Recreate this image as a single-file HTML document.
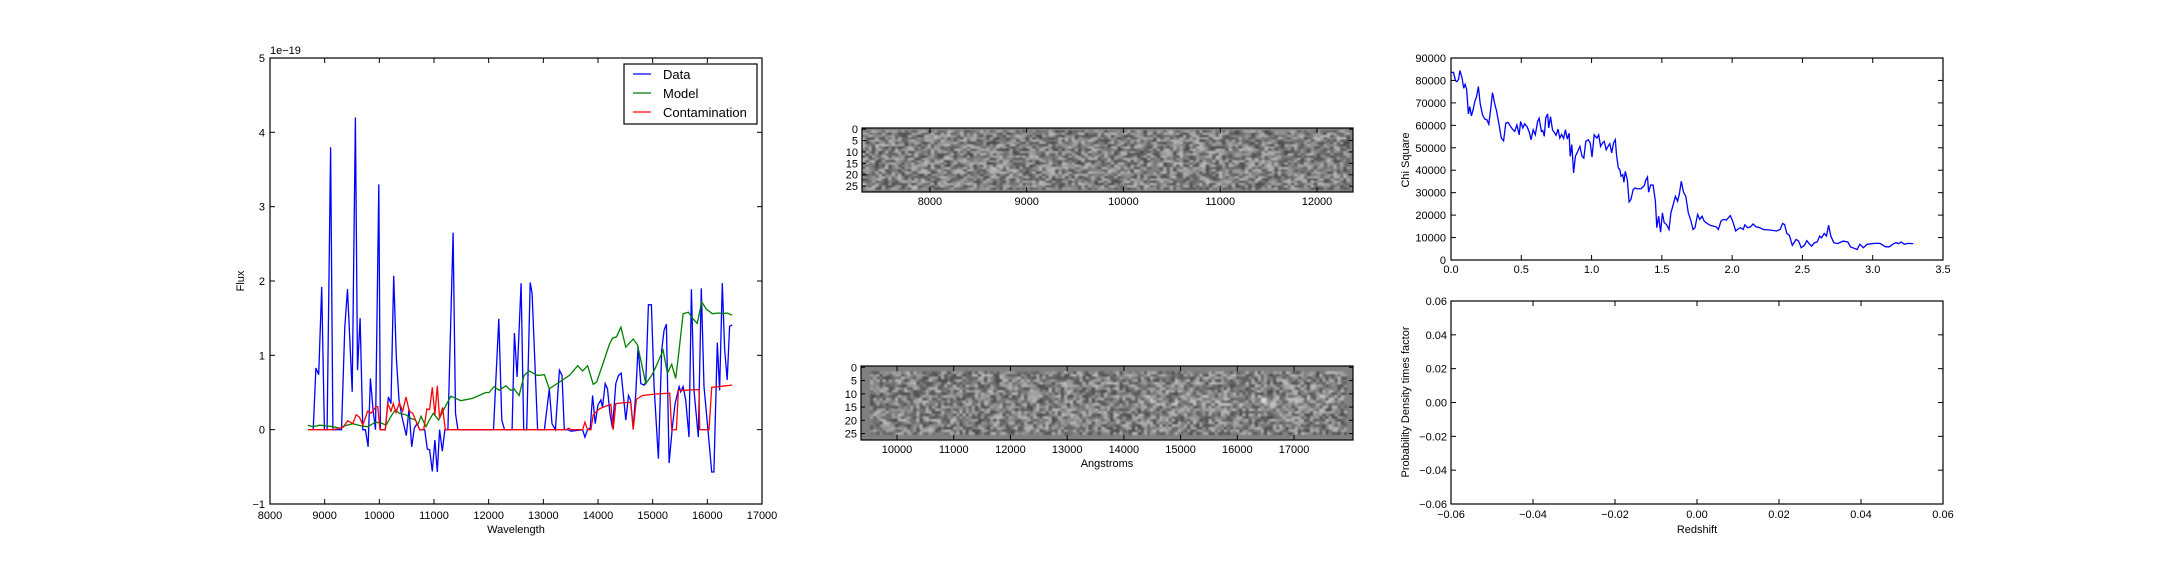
<!DOCTYPE html>
<html><head><meta charset="utf-8">
<style>
html,body{margin:0;padding:0;background:#fff;}
#root{position:relative;width:2160px;height:576px;overflow:hidden;background:#fff;font-family:"Liberation Sans","DejaVu Sans",sans-serif;}
canvas{position:absolute;}
svg{position:absolute;left:0;top:0;}
text{font-family:"Liberation Sans","DejaVu Sans",sans-serif;font-size:11px;fill:#000;}
</style></head>
<body>
<div id="root">
<canvas id="img1" width="150" height="28" style="left:862px;top:128px;width:491px;height:64px;"></canvas>
<canvas id="img2" width="160" height="28" style="left:861px;top:366px;width:492px;height:74px;"></canvas>
<svg id="svg" width="2160" height="576"></svg>
</div>
<script>
// ---- Spectrum panel data (wavelength in Angstrom, flux in 1e-19) ----
const dataWl=[8790,8840,8890,8945,8995,9045,9108,9150,9175,9308,9369,9418,9503,9562,9600,9648,9697,9745,9794,9837,9886,9930,9990,10019,10068,10110,10165,10214,10263,10311,10360,10415,10494,10543,10592,10640,10689,10738,10829,10877,10920,10969,11017,11060,11103,11151,11200,11255,11350,11394,11437,12088,12185,12240,12289,12428,12471,12520,12593,12641,12696,12760,12794,12896,13019,13110,13159,13220,13293,13342,13384,13445,13506,13718,13761,13810,13858,13901,13949,13998,14053,14083,14131,14174,14217,14266,14326,14375,14424,14509,14558,14594,14643,14692,14734,14783,14843,14874,14922,14977,15026,15105,15166,15209,15251,15300,15361,15410,15483,15513,15556,15604,15665,15708,15756,15835,15890,15939,16018,16079,16121,16182,16225,16273,16316,16364,16407,16455];
const dataFlux=[0,0.83,0.74,1.92,0,0,3.8,0,0,0,1.38,1.89,0.51,4.2,0.8,1.5,0,0,-0.23,0.69,0.26,0,3.3,0,0,0,0.44,0.35,2.07,0.98,0.4,0.17,-0.08,0.28,-0.23,0.02,0.08,0,0,-0.26,-0.27,-0.56,-0.14,-0.57,0,-0.29,0,0,2.65,0.22,0,0,1.49,0.13,0,0,1.3,0.71,1.97,0,0,1.98,1.83,0,0,0.55,0.08,0,0.8,0.73,0,0,-0.02,0,-0.1,0,0.02,0.46,0.08,0.33,0.4,0.3,0.62,0.55,0.22,0.02,0.62,0.73,0.76,0.13,0.46,0.4,0.02,0.49,1.12,0.62,0.6,0.64,1.68,1.68,0.58,-0.39,1.07,1.34,1.42,-0.45,0.04,0.35,0.58,0.51,0.58,0.4,-0.1,1.89,0.53,-0.1,1.9,0.58,-0.05,-0.57,-0.57,1.17,0.53,1.97,1.09,0.67,1.39,1.41];
const modelWl=[8693,8785,8907,9029,9150,9272,9363,9515,9667,9788,9929,10032,10123,10214,10293,10366,10488,10580,10659,10701,10762,10853,10914,10987,11084,11157,11248,11309,11400,11491,11704,11947,12008,12100,12191,12313,12404,12465,12556,12648,12739,12896,13019,13110,13354,13476,13628,13718,13810,13913,13974,14083,14205,14266,14339,14418,14509,14643,14722,14874,14983,15056,15190,15270,15349,15422,15483,15556,15653,15726,15817,15897,15982,16091,16213,16273,16364,16455];
const modelFlux=[0.06,0.04,0.06,0.05,0.04,0.02,0.05,0.08,0.05,0.04,0.1,0.09,0.06,0.18,0.27,0.22,0.2,0.15,0.13,0.06,0.18,0.04,0.13,0.22,0.13,0.24,0.37,0.45,0.42,0.39,0.42,0.5,0.5,0.58,0.53,0.59,0.53,0.55,0.46,0.73,0.79,0.73,0.74,0.55,0.67,0.73,0.86,0.79,0.86,0.61,0.64,0.87,1.14,1.23,1.25,1.38,1.11,1.22,1.14,0.62,0.73,0.84,1.07,0.76,0.88,0.69,1.07,1.56,1.58,1.5,1.43,1.72,1.62,1.56,1.57,1.56,1.57,1.54];
const contWl=[8693,9150,9333,9424,9515,9576,9636,9697,9788,9849,9940,9970,10013,10110,10153,10214,10256,10305,10366,10427,10488,10549,10610,10738,10811,10871,10920,10969,11017,11060,11103,11157,11206,13415,13465,13510,13718,13761,13810,13871,13913,14022,14156,14235,14278,14326,14448,14600,14643,14703,14813,15056,15312,15349,15434,15471,15574,15848,15860,16030,16079,16334,16455];
const contFlux=[0,0,0.03,0.12,0.08,0.2,0.17,0.06,0.25,0.22,0.31,0.31,0,0,0.35,0.25,0.35,0.23,0.36,0.25,0.44,0.25,0.22,0,0,0.28,0.27,0.57,0.2,0.59,0.15,0.3,0,0,0.02,0,0,0.1,0,0,0.2,0.28,0.32,0.34,0,0.35,0.36,0.37,0,0.41,0.46,0.48,0.49,0,0,0.53,0.53,0.54,0,0,0.57,0.59,0.6];
const specXTicks=[8000,9000,10000,11000,12000,13000,14000,15000,16000,17000];
const specYTicks=[-1,0,1,2,3,4,5];
// ---- Chi square panel data ----
const chiZ=[0,0.018,0.032,0.042,0.053,0.063,0.079,0.090,0.100,0.111,0.124,0.134,0.145,0.158,0.169,0.182,0.195,0.208,0.224,0.240,0.255,0.269,0.282,0.295,0.311,0.324,0.340,0.358,0.374,0.390,0.406,0.421,0.437,0.453,0.469,0.485,0.495,0.511,0.524,0.543,0.558,0.569,0.585,0.600,0.616,0.627,0.643,0.653,0.664,0.674,0.687,0.695,0.708,0.722,0.735,0.748,0.761,0.774,0.787,0.801,0.814,0.827,0.840,0.848,0.859,0.872,0.885,0.901,0.917,0.932,0.945,0.959,0.977,0.990,1.003,1.019,1.038,1.051,1.064,1.077,1.090,1.104,1.117,1.130,1.143,1.156,1.169,1.177,1.190,1.201,1.209,1.222,1.230,1.240,1.254,1.267,1.280,1.296,1.309,1.327,1.354,1.375,1.385,1.398,1.406,1.420,1.438,1.454,1.464,1.477,1.491,1.504,1.517,1.533,1.551,1.564,1.583,1.596,1.612,1.625,1.638,1.654,1.670,1.688,1.704,1.722,1.736,1.754,1.770,1.786,1.801,1.822,1.846,1.867,1.886,1.902,1.920,1.938,1.959,1.986,2.004,2.025,2.044,2.060,2.078,2.091,2.110,2.131,2.149,2.170,2.196,2.223,2.275,2.315,2.341,2.360,2.373,2.389,2.407,2.428,2.455,2.473,2.491,2.513,2.531,2.547,2.565,2.586,2.605,2.623,2.636,2.655,2.671,2.686,2.702,2.723,2.750,2.789,2.823,2.842,2.868,2.889,2.908,2.934,2.960,3.013,3.052,3.092,3.118,3.145,3.166,3.184,3.203,3.224,3.250,3.289];
const chiVal=[83600,83600,79900,79500,80400,84400,81000,76500,78300,76100,65100,68400,64200,67200,70600,72800,77300,69600,64700,62800,62500,60500,66900,74600,69600,66500,61000,54300,53100,61000,61300,59800,58300,57300,60200,55800,61700,58800,60700,59200,56800,53600,58000,55800,61700,63200,57300,57700,55100,63200,65100,58800,63900,58000,56800,55600,58300,54300,55900,54200,58000,53900,56500,46200,51400,38800,46200,48400,50600,46200,45400,52800,53600,52100,45900,55800,54300,55800,50600,52100,52800,49100,50600,51800,47700,52100,53600,46900,41000,40300,37300,38000,34600,39500,35800,25900,26900,31400,32100,31700,31800,33200,35500,37000,30200,33400,33400,26200,14400,19500,12400,21000,16600,15800,13600,21000,25200,28400,26200,29500,35100,30200,28400,21000,18100,13600,14400,20300,18100,19500,17300,16300,15400,15100,14800,13600,17300,18100,17800,19800,17300,12900,13900,14400,13600,15700,14400,14800,16100,14800,14400,13600,13300,12900,13600,16300,15800,11800,11000,6500,9200,8400,5500,6500,8600,7400,6200,7700,8000,10700,9900,11800,10700,15500,10700,7700,7300,8400,8000,5900,5200,4700,7000,5500,7000,7400,7400,5900,5900,7100,7700,7300,8000,7000,7400,7300];
const chiXTicks=[0,0.5,1.0,1.5,2.0,2.5,3.0,3.5];
const chiYTicks=[0,10000,20000,30000,40000,50000,60000,70000,80000,90000];
const pdfTicks=[-0.06,-0.04,-0.02,0.00,0.02,0.04,0.06];
const img1Ticks=[8000,9000,10000,11000,12000];
const img2Ticks=[10000,11000,12000,13000,14000,15000,16000,17000];
const rowTicks=[0,5,10,15,20,25];

const NS='http://www.w3.org/2000/svg';
const svg=document.getElementById('svg');
function el(tag,attrs,parent){const e=document.createElementNS(NS,tag);for(const k in attrs)e.setAttribute(k,attrs[k]);(parent||svg).appendChild(e);return e;}
function txt(s,x,y,anchor,parent,extra){const t=el('text',Object.assign({x:x,y:y,'text-anchor':anchor||'middle'},extra||{}),parent);t.textContent=s;return t;}
function fmt(v,d){const s=Math.abs(v).toFixed(d);return (v<0?'\u2212':'')+s;}
function lin(d0,d1,r0,r1){return v=>r0+(v-d0)/(d1-d0)*(r1-r0);}
function linePath(xs,ys,sx,sy){let d='';for(let i=0;i<xs.length;i++){d+=(i?'L':'M')+sx(xs[i]).toFixed(1)+' '+sy(ys[i]).toFixed(1);}return d;}
function frame(g,L,T,R,B){el('rect',{x:L,y:T,width:R-L,height:B-T,fill:'none',stroke:'#000','stroke-width':1.2},g);}
function xTicks(g,ticks,sx,T,B,both){ticks.forEach(v=>{const x=sx(v);el('line',{x1:x,y1:B,x2:x,y2:B-5,stroke:'#000','stroke-width':1},g);if(both)el('line',{x1:x,y1:T,x2:x,y2:T+5,stroke:'#000','stroke-width':1},g);});}
function yTicks(g,ticks,sy,L,R,both){ticks.forEach(v=>{const y=sy(v);el('line',{x1:L,y1:y,x2:L+5,y2:y,stroke:'#000','stroke-width':1},g);if(both)el('line',{x1:R,y1:y,x2:R-5,y2:y,stroke:'#000','stroke-width':1},g);});}

// ===== Spectrum panel =====
(function(){
 const L=270,T=58,R=762,B=504;
 const g=el('g',{});
 
 
 const sx=lin(8000,17000,L,R), sy=lin(-1,5,B,T);
 const clip=el('clipPath',{id:'c1'},g);el('rect',{x:L,y:T,width:R-L,height:B-T},clip);
 const lg=el('g',{'clip-path':'url(#c1)'},g);
 const pd=el('path',{d:linePath(dataWl,dataFlux,sx,sy),fill:'none',stroke:'#0000ff','stroke-width':1.3},lg);
 
 const pm=el('path',{d:linePath(modelWl,modelFlux,sx,sy),fill:'none',stroke:'#008000','stroke-width':1.3},lg);
 
 const pc=el('path',{d:linePath(contWl,contFlux,sx,sy),fill:'none',stroke:'#ff0000','stroke-width':1.3},lg);
 
 frame(g,L,T,R,B);
 xTicks(g,specXTicks,sx,T,B,true);yTicks(g,specYTicks,sy,L,R,true);
 specXTicks.forEach(v=>{const t=txt(String(v),sx(v),B+15,'middle',g);});
 specYTicks.forEach(v=>{const t=txt(fmt(v,0),L-5,sy(v)+4,'end',g);});
 const off=txt('1e\u221219',L,T-4,'start',g);
 const xl=txt('Wavelength',(L+R)/2,B+29,'middle',g);
 const yl=txt('Flux',0,0,'middle',g,{transform:'translate(244,281) rotate(-90)'});
 const lgd=el('g',{},g);
 el('rect',{x:624,y:64,width:133,height:60,fill:'#fff',stroke:'#000','stroke-width':1.2},lgd);
 [['Data','#0000ff',74],['Model','#008000',93],['Contamination','#ff0000',112]].forEach(e=>{
  const eg=el('g',{},lgd);
  el('line',{x1:633,y1:e[2],x2:651,y2:e[2],stroke:e[1],'stroke-width':1.3},eg);
  txt(e[0],663,e[2]+5,'start',eg,{style:'font-size:13px'});
 });
})();

// ===== 2D images axes =====
function imgAxes(name,L,T,R,B,x0,x1,ticks,rowsH,withTitle){
 const g=el('g',{});
 const sx=lin(x0,x1,L,R), sy=v=>T+(v+0.5)*rowsH;
 frame(g,L,T,R,B);
 xTicks(g,ticks,sx,T,B,true);
 rowTicks.forEach(v=>{const y=sy(v);el('line',{x1:L,y1:y,x2:L+4,y2:y,stroke:'#000','stroke-width':1},g);el('line',{x1:R,y1:y,x2:R-4,y2:y,stroke:'#000','stroke-width':1},g);
  const t=txt(String(v),L-4,y+4,'end',g);});
 ticks.forEach(v=>{const t=txt(String(v),sx(v),B+13,'middle',g);});
 if(withTitle){const t=txt('Angstroms',(L+R)/2,B+27,'middle',g);}
}
imgAxes('image-top-axes',862,128,1353,192,7298,12372,img1Ticks,2.28,false);
imgAxes('image-bottom-axes',861,366,1353,440,9365,18040,img2Ticks,2.65,true);

// ===== Chi square panel =====
(function(){
 const L=1451,T=58,R=1943,B=260;
 const g=el('g',{});
 const sx=lin(0,3.5,L,R), sy=lin(0,90000,B,T);
 const p=el('path',{d:linePath(chiZ,chiVal,sx,sy),fill:'none',stroke:'#0000ff','stroke-width':1.3},g);
 
 frame(g,L,T,R,B);
 xTicks(g,chiXTicks,sx,T,B,true);yTicks(g,chiYTicks,sy,L,R,true);
 chiXTicks.forEach(v=>{const t=txt(v.toFixed(1),sx(v),B+13,'middle',g);});
 chiYTicks.forEach(v=>{const t=txt(String(v),L-5,sy(v)+4,'end',g);});
 const yl=txt('Chi Square',0,0,'middle',g,{transform:'translate(1409,160) rotate(-90)'});
})();

// ===== Probability density panel =====
(function(){
 const L=1451,T=301,R=1943,B=504;
 const g=el('g',{});
 const sx=lin(-0.06,0.06,L,R), sy=lin(-0.06,0.06,B,T);
 frame(g,L,T,R,B);
 xTicks(g,pdfTicks,sx,T,B,true);yTicks(g,pdfTicks,sy,L,R,true);
 pdfTicks.forEach(v=>{const t=txt(fmt(v,2),sx(v),B+14,'middle',g);});
 pdfTicks.forEach(v=>{const t=txt(fmt(v,2),L-4,sy(v)+4,'end',g);});
 const xl=txt('Redshift',(L+R)/2,B+29,'middle',g);
 const yl=txt('Probability Density times factor',0,0,'middle',g,{transform:'translate(1409,402) rotate(-90)'});
})();

// ===== noise images (texture) =====
function noiseImg(id,seed,padT,padB,padL,padR,streak){
 const c=document.getElementById(id),ctx=c.getContext('2d');
 const W=c.width,H=c.height;let s=seed;
 function rnd(){s=(s*1103515245+12345)%2147483648;return s/2147483648;}
 const im=ctx.createImageData(W,H);
 for(let y=0;y<H;y++)for(let x=0;x<W;x++){
  let v=128;
  if(y>=padT&&y<H-padB&&x>=padL&&x<W-padR){v=70+rnd()*120;
   if(streak&&y>=11&&y<=14&&x>W*0.55&&x<W*0.97)v+=15;
   if(streak&&y>=12&&y<=13&&Math.abs(x-W*0.815)<1)v=215;}
  const i=(y*W+x)*4;im.data[i]=im.data[i+1]=im.data[i+2]=Math.max(0,Math.min(255,v));im.data[i+3]=255;}
 ctx.putImageData(im,0,0);
}
noiseImg('img1',12345,1,1,0,1,false);
noiseImg('img2',777,2,2,3,2,true);
</script>
</body></html>
